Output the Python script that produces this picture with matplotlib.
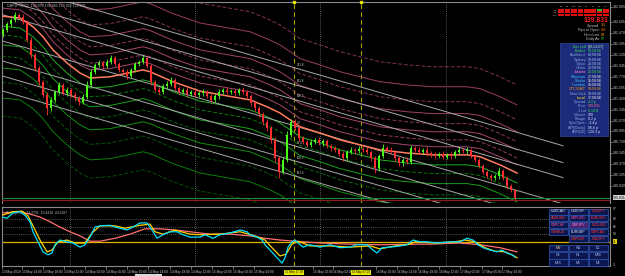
import matplotlib
matplotlib.use("Agg")
import matplotlib.pyplot as plt
from matplotlib.patches import Rectangle
import numpy as np

plt.rcParams['font.family'] = ['Liberation Sans', 'DejaVu Sans']

# ---------------- data ----------------
title_text = "GBPJPY,M30  139.870 139.885 139.826 139.831"
first_open = 142.45
closes = [142.52, 142.61, 142.68, 142.76, 142.73, 142.65, 142.36, 142.12, 141.91, 141.69,
          141.48, 141.27, 141.40, 141.53, 141.64, 141.51, 141.56, 141.48, 141.43, 141.37,
          141.45, 141.64, 141.85, 141.96, 141.99, 141.94, 142.01, 142.07, 141.97, 141.88,
          141.85, 141.78, 141.88, 141.97, 142.01, 142.07, 141.94, 141.69, 141.56, 141.53,
          141.62, 141.66, 141.72, 141.59, 141.53, 141.56, 141.49, 141.53, 141.48, 141.51,
          141.53, 141.46, 141.40, 141.46, 141.53, 141.56, 141.53, 141.54, 141.51, 141.56,
          141.53, 141.46, 141.35, 141.27, 141.17, 141.05, 140.95, 140.76, 140.47, 140.25,
          140.44, 140.84, 141.05, 140.95, 140.79, 140.73, 140.68, 140.73, 140.76, 140.71,
          140.74, 140.66, 140.63, 140.60, 140.54, 140.47, 140.57, 140.60, 140.58, 140.62,
          140.60, 140.57, 140.47, 140.31, 140.50, 140.63, 140.60, 140.57, 140.47, 140.39,
          140.44, 140.41, 140.63, 140.60, 140.57, 140.60, 140.55, 140.52, 140.50, 140.54,
          140.49, 140.52, 140.50, 140.57, 140.60, 140.58, 140.60, 140.50, 140.44, 140.34,
          140.25, 140.18, 140.15, 140.18, 140.26, 140.15, 140.02, 139.96, 139.83]
wick_up = [0.03, 0.04, 0.03, 0.05, 0.03, 0.04, 0.03, 0.04, 0.03, 0.04,
           0.03, 0.04, 0.05, 0.03, 0.04, 0.03, 0.04, 0.03, 0.04, 0.03,
           0.04, 0.06, 0.04, 0.03, 0.05, 0.03, 0.04, 0.05, 0.03, 0.04,
           0.03, 0.04, 0.03, 0.04, 0.03, 0.05, 0.03, 0.04, 0.03, 0.04,
           0.03, 0.04, 0.05, 0.03, 0.04, 0.03, 0.04, 0.03, 0.04, 0.03,
           0.04, 0.03, 0.04, 0.03, 0.04, 0.03, 0.04, 0.03, 0.04, 0.03,
           0.04, 0.03, 0.04, 0.03, 0.04, 0.03, 0.04, 0.03, 0.04, 0.03,
           0.05, 0.06, 0.05, 0.04, 0.03, 0.04, 0.03, 0.04, 0.03, 0.04,
           0.03, 0.04, 0.03, 0.04, 0.03, 0.04, 0.03, 0.04, 0.03, 0.04,
           0.03, 0.04, 0.03, 0.04, 0.03, 0.06, 0.03, 0.04, 0.03, 0.04,
           0.03, 0.04, 0.05, 0.03, 0.04, 0.03, 0.04, 0.03, 0.04, 0.03,
           0.04, 0.03, 0.04, 0.03, 0.04, 0.03, 0.04, 0.03, 0.04, 0.03,
           0.04, 0.03, 0.04, 0.03, 0.06, 0.03, 0.04, 0.03, 0.02]
wick_dn = [0.04, 0.03, 0.04, 0.03, 0.04, 0.03, 0.04, 0.05, 0.04, 0.05,
           0.04, 0.11, 0.04, 0.03, 0.04, 0.03, 0.04, 0.03, 0.04, 0.05,
           0.03, 0.04, 0.03, 0.04, 0.03, 0.04, 0.03, 0.04, 0.03, 0.04,
           0.03, 0.04, 0.03, 0.04, 0.03, 0.04, 0.03, 0.05, 0.04, 0.03,
           0.04, 0.03, 0.04, 0.03, 0.04, 0.03, 0.04, 0.03, 0.04, 0.03,
           0.04, 0.03, 0.05, 0.03, 0.04, 0.03, 0.04, 0.03, 0.04, 0.03,
           0.04, 0.03, 0.04, 0.05, 0.04, 0.05, 0.04, 0.05, 0.06, 0.10,
           0.04, 0.03, 0.04, 0.03, 0.04, 0.03, 0.04, 0.03, 0.04, 0.03,
           0.04, 0.03, 0.04, 0.03, 0.04, 0.05, 0.04, 0.03, 0.04, 0.03,
           0.04, 0.03, 0.04, 0.08, 0.04, 0.03, 0.04, 0.03, 0.04, 0.05,
           0.04, 0.03, 0.04, 0.03, 0.04, 0.03, 0.04, 0.03, 0.04, 0.03,
           0.04, 0.03, 0.04, 0.03, 0.04, 0.03, 0.04, 0.03, 0.04, 0.03,
           0.04, 0.03, 0.05, 0.03, 0.04, 0.03, 0.04, 0.03, 0.03]

# smoothed centre line of the band indicator (bar index, price)
center_x = [-0.25, 4.25, 7.5, 10, 12.5, 16, 19.25, 21.75, 26.75, 35, 36.75, 42.5, 49.25,
            61.75, 66, 69.25, 72.5, 74.25, 79.25, 84.25, 89.25, 94.25, 101, 107.5, 116,
            119.25, 124.25, 128.5]
center_p = [142.74, 142.71, 142.57, 142.41, 142.20, 141.99, 141.83, 141.75, 141.77, 141.88,
            141.85, 141.69, 141.54, 141.40, 141.29, 141.19, 141.05, 140.97, 140.87, 140.76,
            140.68, 140.60, 140.55, 140.52, 140.52, 140.49, 140.36, 140.23]
upper_band_off = [0.13, 0.24, 0.37, 0.50, 0.66, 0.85, 1.09, 1.41]
lower_band_off = [0.16, 0.30, 0.46, 0.64, 0.83, 1.06, 1.31, 1.60]

# straight channel lines
chan_start = 142.34
chan_slope = -0.0186
chan_levels = [0.93, 0.66, 0.42, 0.0, -0.32, -0.56, -0.80]
chan_names = ['261.8', '161.8', '100.0', '0.0', '61.8', '100.0', '161.8']
chan_label_bar = 73.5

bid_price = 139.831
second_price = 139.800

price_ticks = [142.885, 142.645, 142.470, 142.295, 142.120, 141.945, 141.770, 141.595,
               141.420, 141.245, 141.070, 140.895, 140.720, 140.545, 140.370, 140.195, 140.020]

grid_x = [16.75, 48, 79.25, 110.75]
event_x = [72.75, 89.5]
event_labels = ['15 May 17:30', '16 May 07:00']

time_ticks = [-0.25, 4.75, 10, 15.25, 20.5, 25.75, 31, 36.25, 41.75, 47, 52.25, 57.5, 62.75,
              77.5, 82.5, 93.25, 98.5, 103.75, 109, 114.25, 119.75, 124.75]
time_labels = ['13 May 2019', '13 May 14:00', '13 May 18:00', '13 May 22:00', '14 May 02:00',
               '14 May 06:00', '14 May 10:00', '14 May 14:00', '14 May 18:00', '14 May 22:00',
               '15 May 02:00', '15 May 06:00', '15 May 10:00',
               '15 May 22:00', '16 May 02:00', '16 May 10:00', '16 May 14:00',
               '16 May 18:00', '16 May 22:00', '17 May 02:00', '17 May 06:00', '17 May 10:00']

osc_title = "Stoch(8,3,3)  14.2791  19.4410  24.1187"
fast_x = [-0.25, 1, 2.5, 4.25, 5.5, 6.75, 7.5, 8.75, 10, 11.25, 12.25, 13, 14.25, 16, 17.5,
          19.25, 20.5, 21.75, 23, 24.25, 26.75, 28, 29.25, 31, 32.5, 34.25, 36, 37.25, 38.5,
          40, 41.75, 43.5, 45, 46.75, 49.25, 50.5, 52.5, 54.25, 56.75, 59.25, 61, 61.75,
          63.5, 64.75, 65.5, 66.75, 68.5, 69.75, 70.5, 71.25, 72.25, 73, 73.75, 75, 76.75,
          79.25, 81.75, 84.25, 86.75, 88.5, 91, 92.5, 93.5, 94.75, 96.75, 99.25, 101, 102.5,
          104.25, 106, 108.5, 111.75, 114.25, 116, 117.5, 118.75, 120, 121.75, 123.5,
          124.75, 126, 127.25, 128]
fast_v = [83, 81, 90, 92, 86, 75, 58, 41, 24, 19, 22, 36, 44, 41, 39, 32, 36, 49, 66, 68,
          69, 66, 64, 61, 66, 73, 73, 61, 47, 53, 58, 58, 53, 49, 49, 53, 47, 53, 56, 61,
          58, 53, 49, 44, 36, 27, 14, 5, 14, 32, 41, 44, 39, 32, 36, 32, 36, 31, 32, 36,
          36, 27, 22, 31, 32, 34, 36, 44, 41, 41, 39, 41, 41, 47, 44, 36, 31, 27, 24, 27,
          22, 19, 15]
sig_x = [-0.25, 2.5, 4.75, 6.25, 7.5, 9.25, 11, 12.25, 13.75, 16, 18, 20.5, 22.25, 24.25,
         28, 30.5, 34.25, 36.75, 38, 40, 43, 46.75, 49.25, 54.25, 59.25, 63, 65.5, 67.25,
         69.25, 70.75, 72.25, 73.75, 76.75, 81.75, 86.75, 91.75, 94.25, 98, 101.75, 103,
         108, 113, 115.5, 118, 120.5, 123, 125.5, 127.25, 128.5]
sig_v = [86, 92, 93, 85, 68, 44, 24, 27, 41, 44, 39, 39, 56, 68, 68, 64, 69, 71, 58, 54,
         61, 54, 53, 54, 58, 51, 44, 31, 17, 20, 37, 42, 34, 34, 32, 34, 29, 34, 37, 41,
         39, 41, 44, 41, 31, 25, 24, 19, 14]
slow_x = [-0.25, 4.25, 6.75, 9.25, 11.75, 14.25, 16.75, 19.25, 21.75, 24.25, 28, 31.75,
          35.5, 39.25, 43, 46.75, 51.75, 56.75, 61.75, 65.5, 69.25, 73, 79.25, 86.75, 94.25,
          101.75, 106.75, 114.25, 119.25, 124.25, 128.5]
slow_v = [90, 92, 88, 83, 75, 66, 58, 51, 42, 42, 47, 54, 63, 63, 61, 58, 54, 54, 51, 47,
          44, 42, 39, 37, 36, 37, 37, 39, 36, 31, 24]
osc_levels = [80, 66, 54]
osc_base = 41
osc_ticks = [97, 80, 66, 54, 2]

# info panel texts
info_labels = ['Bar Left', 'Broker', 'Auckland', 'Sydney', 'Tokyo', 'China', 'Jakarta',
               '*Moscow', '*Berlin', '*London', 'UTC/GMT', 'New York', 'Local', 'Spread',
               'Price', '1 Lot', 'Volume', 'Range', 'Pips/Open', 'ATR(Daily)', 'ADR(20)']
info_values = ['[00:13:57]', '16:59:56', '02:59:56', '00:59:56', '23:59:56', '22:59:56',
               '21:59:56', '17:59:56', '16:59:56', '15:59:56', '14:59:56', '10:59:56',
               '17:59:56', '4.2 p', '139.831', '9.14 $', '109', '8.2 p', '-3.4 p',
               '96.6 p', '129.3 p']
stat_labels = ['Spread', 'Pips to Open', 'Hi to Low', 'Daily Av']
stat_values = ['1.5', '-88', '84', '97']
tf_cols = ['M1', 'M5', 'M15', 'M30', 'H1', 'H4', 'D1', 'W1']
pairs = [['USDCAD', 'USDCHF', 'USDJPY'], ['AUDUSD', 'GBPUSD', 'EURUSD'],
         ['GBPCHF', 'GBPJPY', 'NZDUSD'], ['GBPAUD', 'EURGBP', 'GBPCAD'],
         ['', 'GBPNZD', 'CADJPY']]
tf_buttons = [['MN', 'W1', 'D1'], ['H4', 'H1', 'M30'], ['M15', 'M5', 'M1']]

# ---------------- figure ----------------
W, H = 625, 276
fig = plt.figure(figsize=(W / 100, H / 100), dpi=100, facecolor='black')


def fx(px):
    return px / W


def fy(py):
    return 1 - py / H


def prect(x0, y0, x1, y1, fc, ec='none', lw=0.5, z=10):
    fig.patches.append(Rectangle((fx(x0), fy(y1)), (x1 - x0) / W, (y1 - y0) / H,
                                 transform=fig.transFigure, facecolor=fc, edgecolor=ec,
                                 lw=lw, zorder=z))


def ptext(x, y, s, **kw):
    kw.setdefault('zorder', 12)
    kw.setdefault('va', 'center')
    fig.text(fx(x), fy(y), s, **kw)


XL = (-0.25, 151.75)
SP = '#8a8a8a'

ax = fig.add_axes([fx(2), fy(203), (610 - 2) / W, (203 - 2) / H], facecolor='black')
ax.set_xlim(*XL)
ax.set_ylim(139.75, 142.966)
ax.set_xticks([])
ax.set_yticks([])
for s in ['left', 'top', 'right']:
    ax.spines[s].set_color(SP)
    ax.spines[s].set_linewidth(0.8)
ax.spines['bottom'].set_visible(False)

# grid / event lines
for gx in grid_x:
    ax.axvline(gx, color='#777777', lw=0.6, ls=(0, (1, 1.5)), zorder=1)
for ex in event_x:
    ax.axvline(ex, color='#a6a600', lw=0.8, ls=(0, (4, 3)), zorder=2)
ax.plot(event_x, [1.0] * len(event_x), 's', ms=1.6, color='#e8e800',
        transform=ax.get_xaxis_transform(), clip_on=False, zorder=6)

# bands
cx = np.array(center_x)
cp = np.array(center_p)
pinks = ['#a8446f', '#963a64', '#a8446f', '#8c365e', '#a0406a', '#86325a', '#9a3c66', '#80305a']
greens = ['#22b422', '#0a780a', '#18a018', '#066606', '#109010', '#055a05', '#0c800c', '#045004']
for k, off in enumerate(upper_band_off):
    ax.plot(cx, cp + off, color=pinks[k], lw=0.7,
            ls='-' if k % 2 == 0 else (0, (4, 2)), zorder=2)
for k, off in enumerate(lower_band_off):
    ax.plot(cx, cp - off, color=greens[k], lw=0.7,
            ls='-' if k % 2 == 0 else (0, (4, 2)), zorder=2)

# channel lines
xs = np.array([XL[0], 140.0])
for lev, name in zip(chan_levels, chan_names):
    ax.plot(xs, chan_start + lev + chan_slope * xs, color='#a8a8a8', lw=0.7, zorder=3)
    ax.text(chan_label_bar, chan_start + lev + chan_slope * chan_label_bar + 0.03, name,
            fontsize=2.2, color='#d0d0d0', ha='left', va='bottom', zorder=3)

ax.plot(cx, cp, color='#ff7d5e', lw=1.1, zorder=4)

ax.axhline(bid_price, color='#1f8a3a', lw=0.8, zorder=3)
ax.axhline(second_price, color='#8e1c1c', lw=0.8, zorder=3)

# candles
n = len(closes)
idx = np.arange(n)
c = np.array(closes)
o = np.array([first_open] + closes[:-1])
hi = np.maximum(o, c) + np.array(wick_up)
lo = np.minimum(o, c) - np.array(wick_dn)
col = np.where(c >= o, '#4cff1a', '#ff2e2e')
ax.vlines(idx, lo, hi, colors=col, lw=0.6, zorder=5)
body = np.maximum(np.abs(c - o), 0.01)
ax.bar(idx, body, bottom=np.minimum(o, c), width=0.5, color=col, lw=0, zorder=6)

# right price axis
ytr = ax.get_yaxis_transform()
for p in price_ticks:
    ax.plot([1.0, 1.004], [p, p], color=SP, lw=0.5, transform=ytr, clip_on=False)
    ax.text(1.005, p, f'{p:.3f}', transform=ytr, fontsize=2.5, color='#c8c8c8',
            va='center', ha='left', clip_on=False)
ax.text(1.005, bid_price, f'{bid_price:.3f}', transform=ytr, fontsize=2.5, color='black',
        va='center', ha='left', clip_on=False, zorder=8,
        bbox=dict(boxstyle='square,pad=0.15', fc='#d8d8d8', ec='none'))

ax.text(0.008, 0.992, title_text, transform=ax.transAxes, fontsize=2.6, color='#bdbdbd',
        ha='left', va='top')

# ---------------- oscillator ----------------
ax2 = fig.add_axes([fx(2), fy(266), (610 - 2) / W, (266 - 207) / H], facecolor='black')
ax2.set_xlim(*XL)
ax2.set_ylim(0, 100)
for s in ax2.spines.values():
    s.set_color(SP)
    s.set_linewidth(0.8)
ax2.set_yticks([])
for gx in grid_x:
    ax2.axvline(gx, color='#777777', lw=0.6, ls=(0, (1, 1.5)), zorder=1)
for ex in event_x:
    ax2.axvline(ex, color='#a6a600', lw=0.8, ls=(0, (4, 3)), zorder=2)
for lv in osc_levels:
    ax2.axhline(lv, color='#9a9a9a', lw=0.5, ls=(0, (1, 2)), zorder=1)
ax2.axhline(osc_base, color='#e0b400', lw=0.9, zorder=2)
ax2.plot(slow_x, slow_v, color='#ff7070', lw=0.9, zorder=3)
ax2.plot(sig_x, sig_v, color='#ffd400', lw=0.9, zorder=4)
ax2.plot(fast_x, fast_v, color='#00e0ff', lw=0.9, zorder=5)
ax2.text(0.006, 0.93, osc_title, transform=ax2.transAxes, fontsize=2.4, color='#bdbdbd',
         ha='left', va='top')

ytr2 = ax2.get_yaxis_transform()
for v in osc_ticks:
    ax2.text(1.005, v, f'{v:g}', transform=ytr2, fontsize=2.4, color='#c8c8c8',
             va='center', ha='left', clip_on=False)
ax2.text(1.005, osc_base, f'{osc_base:g}', transform=ytr2, fontsize=2.4, color='black',
         va='center', ha='left', clip_on=False, zorder=8,
         bbox=dict(boxstyle='square,pad=0.15', fc='#e8d000', ec='none'))

ax2.set_xticks(time_ticks)
ax2.set_xticklabels(time_labels, fontsize=2.3, color='#c8c8c8')
for lab in ax2.get_xticklabels():
    lab.set_ha('left')
ax2.tick_params(axis='x', length=2.2, width=0.5, color='#a0a0a0', pad=0.6, direction='out')
xtr = ax2.get_xaxis_transform()
for ex, el in zip(event_x, event_labels):
    ax2.text(ex, -0.075, el, transform=xtr, fontsize=2.2, color='black', ha='center',
             va='top', clip_on=False, zorder=9,
             bbox=dict(boxstyle='square,pad=0.25', fc='#e6e600', ec='none'))

# scrollbar thumb
prect(135, 274.2, 162, 276, '#d8d8d8', z=9)

# ---------------- overlay panels ----------------
# timeframe signal grid
for j, name in enumerate(tf_cols):
    ptext(558 + 6.4 * j + 3.2, 6.8, name, fontsize=1.7, color='#c0c0c0', ha='center')
for r, name in enumerate(['MA', 'RSI', 'STO']):
    ptext(557, 10.2 + 2.4 * r, name, fontsize=1.5, color='#c0c0c0', ha='right')
    for j in range(8):
        fc = '#20c020' if (r == 0 and j == 6) else '#e01010'
        x0 = 558 + 6.4 * j + 0.3
        prect(x0, 9 + 2.4 * r, x0 + 5.8, 9 + 2.4 * r + 2.0, fc)

ptext(608, 20.3, '139.831', fontsize=4.9, color='#ff2020', ha='right', fontweight='bold')
stat_cols = ['#ff9a00', '#ff6a00', '#ffaa00', '#33cc33']
for r, (lab, val) in enumerate(zip(stat_labels, stat_values)):
    y = 25.5 + 4.5 * r
    ptext(599, y, lab, fontsize=2.7, color='#c4c4c4', ha='right')
    ptext(601, y, val, fontsize=2.7, color=stat_cols[r], ha='left')

# info box
prect(560, 43, 608, 136, '#1b2a7a', ec='#33459e', lw=0.5)
lab_cols = ['#3ddc3d', '#3ddc3d', '#8fa2d8', '#8fa2d8', '#8fa2d8', '#8fa2d8', '#ff7fc8',
            '#38c8ff', '#38c8ff', '#38c8ff', '#ff9a00', '#8fa2d8', '#ffe800', '#8fa2d8',
            '#8fa2d8', '#8fa2d8', '#8fa2d8', '#8fa2d8', '#8fa2d8', '#8fa2d8', '#8fa2d8']
val_cols = ['#c8ffc8', '#3ddc3d', '#b8c8f0', '#b8c8f0', '#b8c8f0', '#b8c8f0', '#3ddc3d',
            '#ffffff', '#ffffff', '#ffffff', '#ff9a00', '#b8c8f0', '#ffffff', '#3ddc3d',
            '#ff6a8a', '#3ddc3d', '#e0e0ff', '#e0e0ff', '#e0e0ff', '#e0e0ff', '#e0e0ff']
for r, (lab, val) in enumerate(zip(info_labels, info_values)):
    y = 46.8 + 4.25 * r
    ptext(586, y, lab, fontsize=2.7, color=lab_cols[r], ha='right')
    ptext(588, y, val, fontsize=2.6, color=val_cols[r], ha='left')

# currency buttons
cols_px = [(549, 567.5), (568.5, 588), (589, 608)]
pair_cols = {'USDCAD': '#e6e6ff', 'USDCHF': '#e6e6ff', 'EURGBP': '#e6e6ff',
             'GBPUSD': '#ff4fa0', 'GBPCHF': '#ff4fa0', 'GBPJPY': '#ff86d6'}
for r, row in enumerate(pairs):
    y0 = 208.5 + 6.8 * r
    for j, name in enumerate(row):
        if not name:
            continue
        x0, x1 = cols_px[j]
        fc = '#4a2470' if name == 'GBPJPY' else '#0c1750'
        prect(x0, y0, x1, y0 + 6.0, fc, ec='#2c4ea6', lw=0.6)
        ptext((x0 + x1) / 2, y0 + 3.0, name, fontsize=2.5,
              color=pair_cols.get(name, '#ff3434'), ha='center')
for r, row in enumerate(tf_buttons):
    y0 = 245 + 7.2 * r
    for j, name in enumerate(row):
        x0, x1 = cols_px[j]
        prect(x0, y0, x1, y0 + 6.4, '#0c1750', ec='#2c4ea6', lw=0.6)
        ptext((x0 + x1) / 2, y0 + 3.2, name, fontsize=2.5,
              color='#e8d070' if name == 'MN' else '#a8c0ff', ha='center')

fig.savefig('out.png', dpi=100, facecolor='black')
